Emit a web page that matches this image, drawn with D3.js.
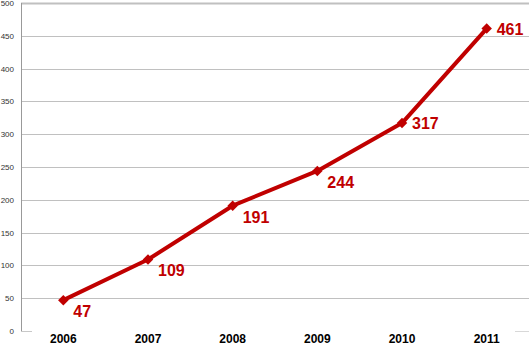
<!DOCTYPE html>
<html>
<head>
<meta charset="UTF-8">
<script src="https://d3js.org/d3.v7.min.js"></script>
<style>
  body { margin: 0; background: #fff; }
  svg { display: block; font-family: "Liberation Sans", Arial, sans-serif; }
</style>
</head>
<body>
<div id="chart"></div>
<script>
// chart data
var years = ["2006", "2007", "2008", "2009", "2010", "2011"];
var counts = [47, 109, 191, 244, 317, 461];
var yTicks = [0, 50, 100, 150, 200, 250, 300, 350, 400, 450, 500];

var width = 529, height = 345;
var margin = {top: 3, right: 0, bottom: 14, left: 21};

var svg = d3.select("#chart").append("svg")
  .attr("width", width)
  .attr("height", height);

var x = d3.scaleBand()
  .domain(years)
  .range([margin.left, width - margin.right]);

var y = d3.scaleLinear()
  .domain([0, 500])
  .range([height - margin.bottom, margin.top]);

// gridlines (the zero line is barely visible in the original)
svg.append("g").selectAll("line")
  .data(yTicks.filter(function(d){ return d > 0; }))
  .enter().append("line")
  .attr("x1", margin.left)
  .attr("x2", width)
  .attr("y1", function(d){ return Math.round(y(d)) + 0.5; })
  .attr("y2", function(d){ return Math.round(y(d)) + 0.5; })
  .attr("stroke", "#c0c0c0")
  .attr("stroke-width", function(d){ return d === 500 ? 2 : 1; });

// short stubs at zero
var y0 = Math.round(y(0)) + 0.5;
svg.append("line")
  .attr("x1", margin.left).attr("x2", margin.left + 11)
  .attr("y1", y0).attr("y2", y0)
  .attr("stroke", "#c8c8c8");
svg.append("line")
  .attr("x1", width - 14).attr("x2", width)
  .attr("y1", y0).attr("y2", y0)
  .attr("stroke", "#d8d8d8");

// y axis line
svg.append("line")
  .attr("x1", margin.left + 0.5).attr("x2", margin.left + 0.5)
  .attr("y1", y(500)).attr("y2", y(0))
  .attr("stroke", "#999");

// y tick labels
svg.append("g").selectAll("text")
  .data(yTicks)
  .enter().append("text")
  .attr("x", 14)
  .attr("y", function(d){ return y(d) + 3; })
  .attr("text-anchor", "end")
  .attr("font-size", 8)
  .attr("fill", "#333")
  .text(function(d){ return d; });

// x labels
svg.append("g").selectAll("text")
  .data(years)
  .enter().append("text")
  .attr("x", function(d){ return x(d) + x.bandwidth() / 2; })
  .attr("y", 343)
  .attr("text-anchor", "middle")
  .attr("font-size", 12)
  .attr("font-weight", "bold")
  .attr("fill", "#000")
  .text(function(d){ return d; });

var points = years.map(function(d, i){ return {year: d, value: counts[i]}; });

var line = d3.line()
  .x(function(d){ return x(d.year) + x.bandwidth() / 2; })
  .y(function(d){ return y(d.value); });

svg.append("path")
  .datum(points)
  .attr("d", line)
  .attr("fill", "none")
  .attr("stroke", "#c00000")
  .attr("stroke-width", 4)
  .attr("stroke-linejoin", "round");

// diamond markers
svg.append("g").selectAll("path")
  .data(points)
  .enter().append("path")
  .attr("d", d3.symbol().type(d3.symbolDiamond2).size(70))
  .attr("transform", function(d){
    return "translate(" + (x(d.year) + x.bandwidth() / 2) + "," + y(d.value) + ")";
  })
  .attr("fill", "#c00000");

// value labels: below-right for lower points, right of the last two
svg.append("g").selectAll("text")
  .data(points)
  .enter().append("text")
  .attr("x", function(d){ return x(d.year) + x.bandwidth() / 2 + 10; })
  .attr("y", function(d, i){ return y(d.value) + (i >= 4 ? 6 : 17); })
  .attr("font-size", 16)
  .attr("font-weight", "bold")
  .attr("fill", "#c00000")
  .text(function(d){ return d.value; });
</script>
</body>
</html>
